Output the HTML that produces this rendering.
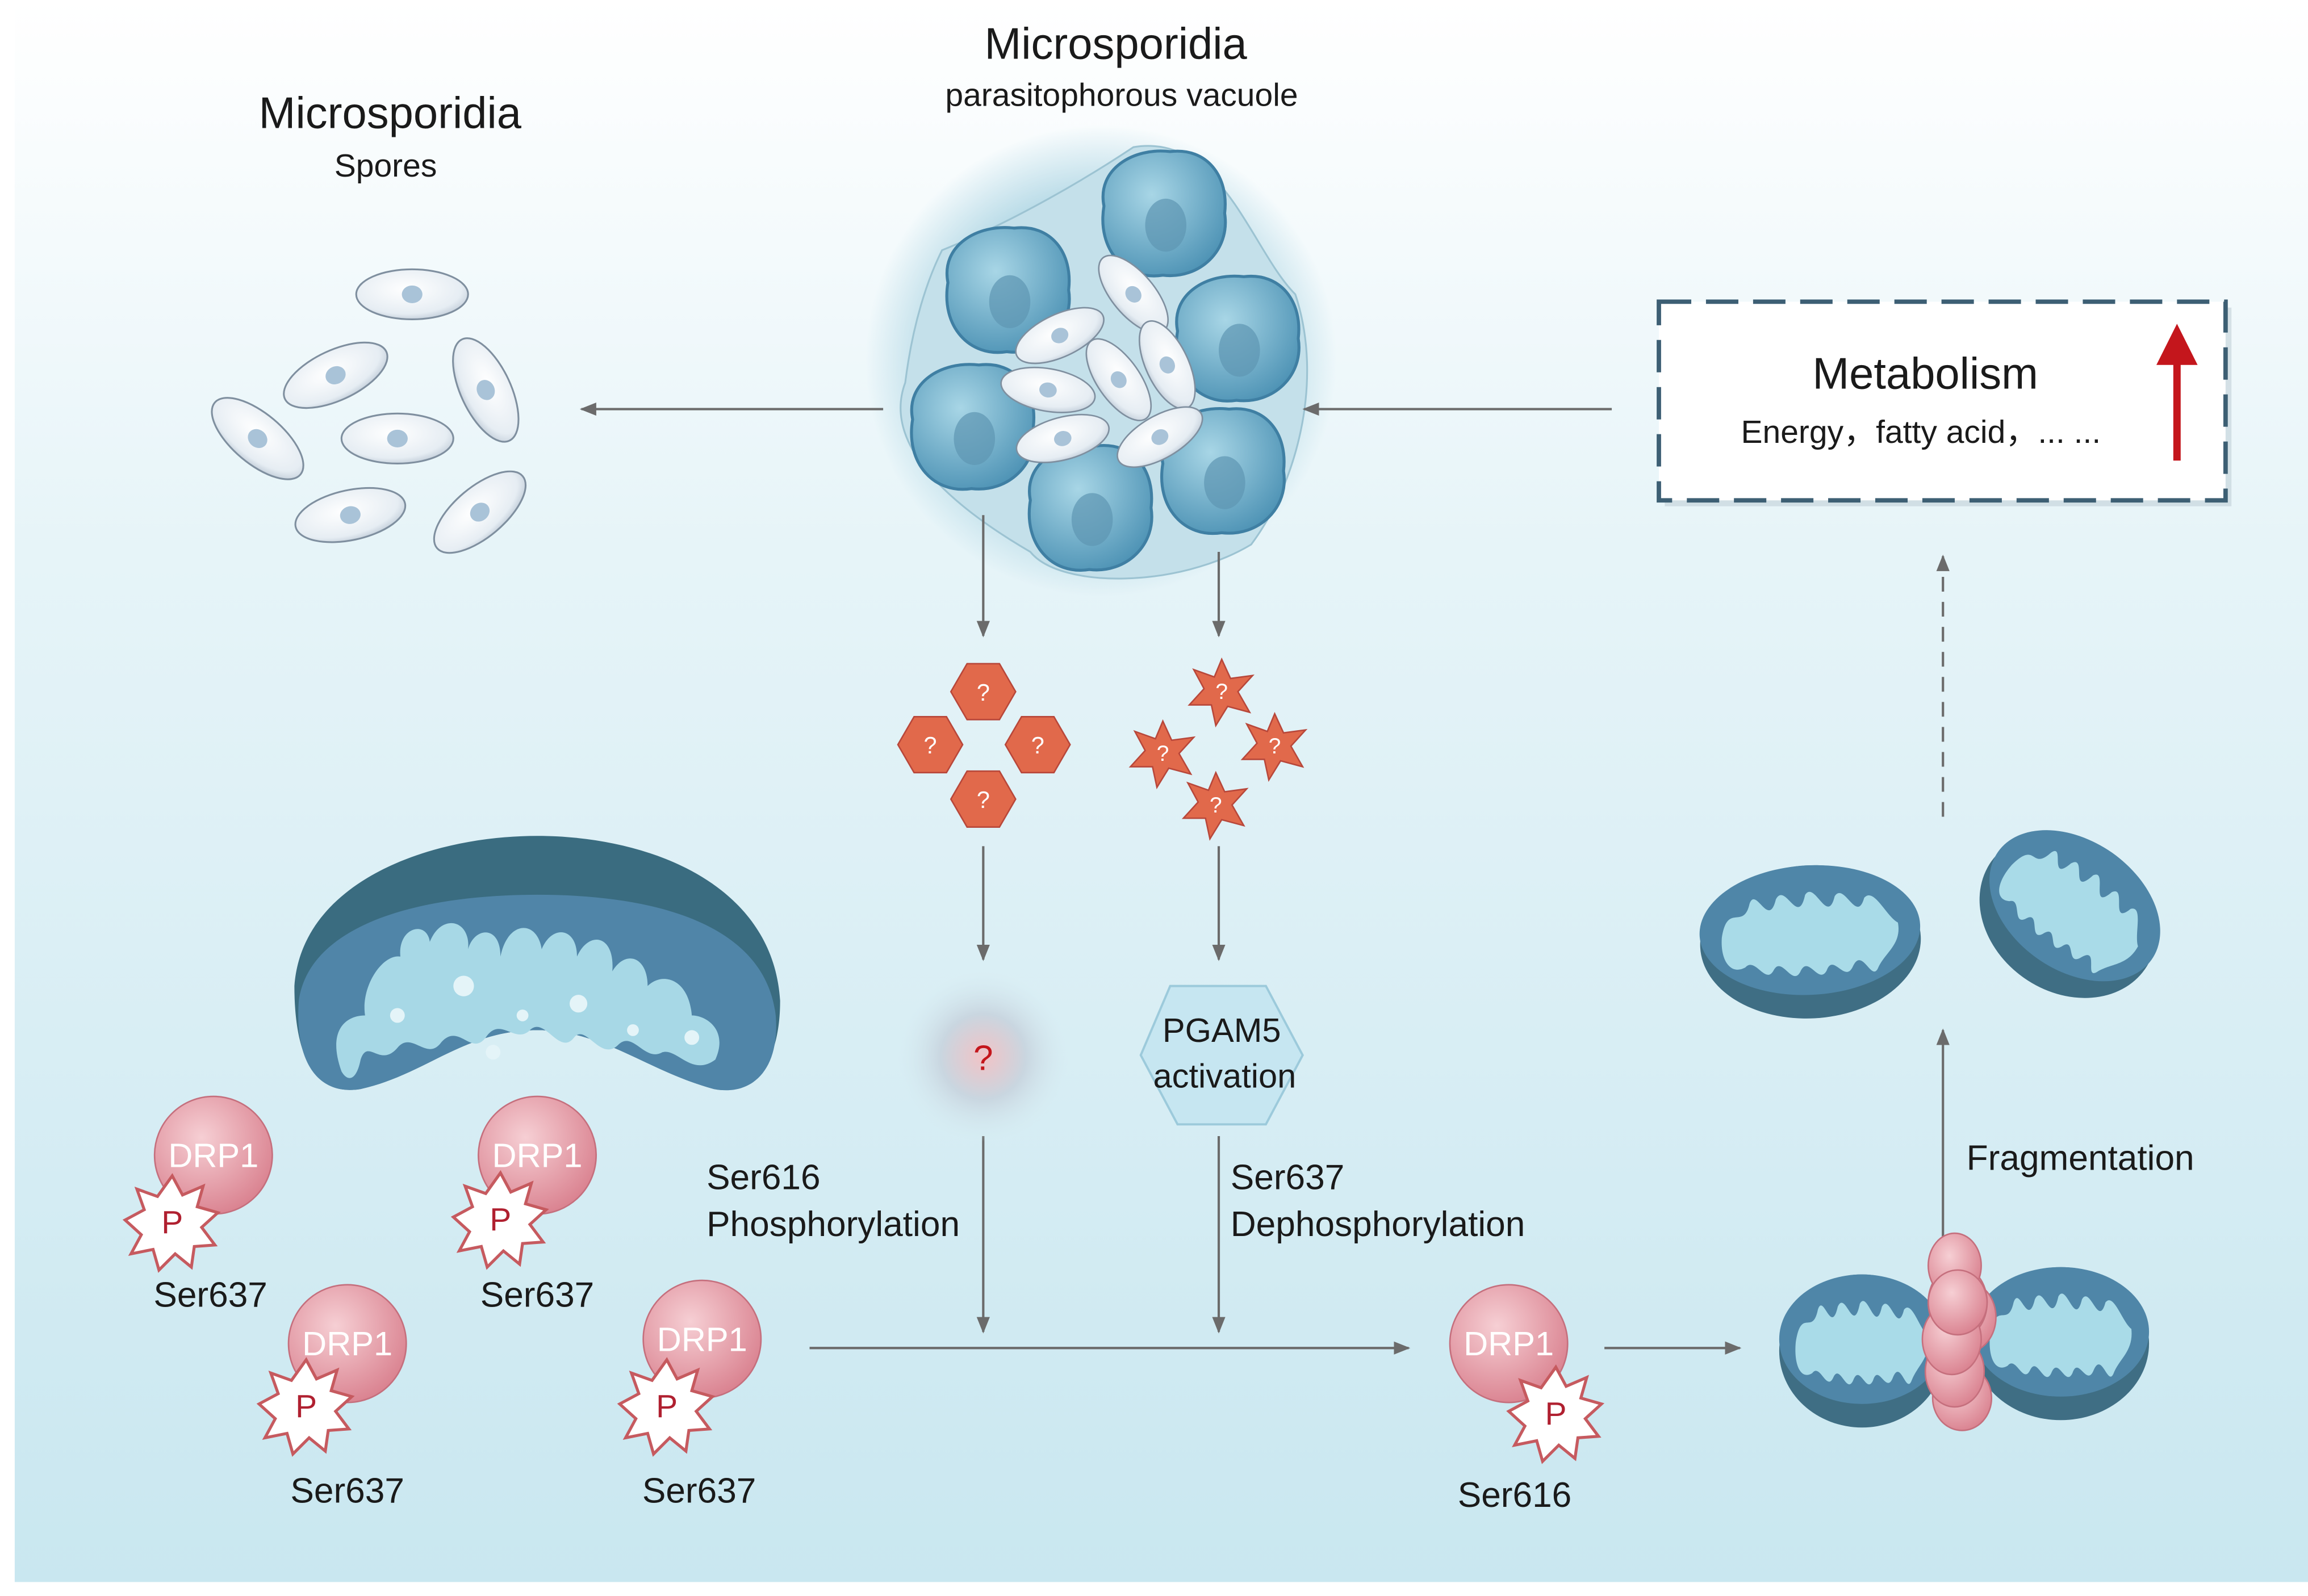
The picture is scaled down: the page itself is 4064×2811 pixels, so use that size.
<!DOCTYPE html>
<html><head><meta charset="utf-8"><style>
html,body{margin:0;padding:0;background:#fff}
svg{display:block}
text{font-family:"Liberation Sans",sans-serif;fill:#1a1a1a}
</style></head><body>
<svg width="4064" height="2811" viewBox="0 0 1568 1084.5" preserveAspectRatio="none" xmlns="http://www.w3.org/2000/svg">
<defs>
<linearGradient id="bg" x1="0" y1="0" x2="0" y2="1">
<stop offset="0" stop-color="#ffffff"/><stop offset="0.35" stop-color="#e6f4f8"/><stop offset="1" stop-color="#c9e7f0"/></linearGradient>
<radialGradient id="glow" cx="0.5" cy="0.5" r="0.5">
<stop offset="0.7" stop-color="#a9d3e2"/><stop offset="1" stop-color="#a9d3e2" stop-opacity="0"/></radialGradient>
<radialGradient id="cell" cx="0.4" cy="0.35" r="0.7">
<stop offset="0" stop-color="#a8d6e6"/><stop offset="1" stop-color="#4e93b5"/></radialGradient>
<radialGradient id="spore" cx="0.45" cy="0.4" r="0.7">
<stop offset="0" stop-color="#ffffff"/><stop offset="0.7" stop-color="#e6edf3"/><stop offset="1" stop-color="#aebccb"/></radialGradient>
<radialGradient id="pink" cx="0.4" cy="0.35" r="0.7">
<stop offset="0" stop-color="#f6cfd4"/><stop offset="1" stop-color="#d9808e"/></radialGradient>
<radialGradient id="qglow" cx="0.5" cy="0.5" r="0.5">
<stop offset="0" stop-color="#f1c3c6"/><stop offset="0.5" stop-color="#c9d6e0"/><stop offset="1" stop-color="#d5e9f0" stop-opacity="0"/></radialGradient>
<marker id="ah" viewBox="0 0 10 10" refX="9" refY="5" markerWidth="7" markerHeight="7" orient="auto"><path d="M0,1 L10,5 L0,9 Z" fill="#6b6b6b"/></marker>
<g id="sp"><ellipse rx="38" ry="17" fill="url(#spore)" stroke="#7f8f9f" stroke-width="1.2"/><ellipse cx="0" cy="0" rx="7" ry="6" fill="#a9c3d8"/></g>
<g id="bc"><path d="M-40,-5 C-45,-30 -20,-45 5,-42 C30,-45 45,-25 42,0 C46,25 25,45 0,42 C-25,46 -45,25 -40,-5Z" fill="url(#cell)" stroke="#3f7fa3" stroke-width="2"/><ellipse cx="2" cy="8" rx="14" ry="18" fill="#5e95b2" opacity="0.7"/></g>
<g id="drp"><circle r="40" fill="url(#pink)" stroke="#c56f7d" stroke-width="1"/><text x="0" y="8" text-anchor="middle" font-size="23" style="fill:#fff">DRP1</text></g>
<g id="pst"><polygon points="0,-31 7,-18 21,-24 17,-10 31,-6 20,4 29,16 15,17 13,31 2,22 -9,33 -13,19 -28,22 -21,9 -32,-1 -19,-8 -24,-22 -10,-17" fill="#fff" stroke="#c65a5f" stroke-width="2"/><text x="0" y="8" text-anchor="middle" font-size="22" style="fill:#b02030">P</text></g>
<g id="hex"><polygon points="-11,-19 11,-19 22,0 11,19 -11,19 -22,0" fill="#e1694b" stroke="#b8473a" stroke-width="1"/><text y="6" text-anchor="middle" font-size="16" style="fill:#fff">?</text></g>
<g id="star"><polygon points="0,-22 6,-9 21,-11 11,0 19,14 4,10 -4,23 -7,9 -22,9 -12,-2 -19,-15 -5,-10" fill="#e1694b" stroke="#b8473a" stroke-width="1"/><text y="5" text-anchor="middle" font-size="15" style="fill:#fff">?</text></g>
<g id="mito"><ellipse rx="75" ry="52" fill="#3f6e84"/><ellipse cy="-8" rx="75" ry="44" fill="#4f86a8"/><path d="M-60,-6 C-55,-30 -45,-10 -40,-28 C-35,-40 -28,-10 -22,-30 C-15,-42 -8,-10 -2,-32 C5,-42 12,-10 18,-30 C25,-40 32,-10 38,-28 C45,-35 52,-15 60,-10 C62,5 50,10 45,20 C40,30 35,5 28,18 C22,30 15,8 10,20 C4,30 -2,8 -8,20 C-14,30 -20,8 -26,18 C-32,28 -38,8 -45,15 C-55,20 -62,10 -60,-6Z" fill="#a9dbe8"/></g>
</defs>
<rect width="1568" height="1084.5" fill="#fff"/>
<rect x="10" y="0" width="1558" height="1075" fill="url(#bg)"/>

<!-- titles -->
<text x="265" y="87" text-anchor="middle" font-size="30">Microsporidia</text>
<text x="262" y="120" text-anchor="middle" font-size="22">Spores</text>
<text x="758" y="40" text-anchor="middle" font-size="30">Microsporidia</text>
<text x="762" y="72" text-anchor="middle" font-size="22">parasitophorous vacuole</text>

<!-- spores -->
<use href="#sp" transform="translate(280,200) scale(1,1)"/>
<use href="#sp" transform="translate(228,255) rotate(-25)"/>
<use href="#sp" transform="translate(330,265) rotate(65)"/>
<use href="#sp" transform="translate(175,298) rotate(40)"/>
<use href="#sp" transform="translate(270,298)"/>
<use href="#sp" transform="translate(238,350) rotate(-12)"/>
<use href="#sp" transform="translate(326,348) rotate(-40)"/>

<!-- vacuole -->
<ellipse cx="748" cy="245" rx="160" ry="160" fill="url(#glow)" opacity="0.8"/>
<path d="M640,170 C690,150 740,120 770,100 C830,90 850,170 880,200 C900,260 880,330 850,370 C800,400 720,400 700,375 C640,340 600,300 615,260 C620,220 630,190 640,170Z" fill="#c4e0ea" stroke="#9cc3d2" stroke-width="1.2"/>
<use href="#bc" transform="translate(790,145)"/>
<use href="#bc" transform="translate(684,197)"/>
<use href="#bc" transform="translate(840,230)"/>
<use href="#bc" transform="translate(660,290)"/>
<use href="#bc" transform="translate(830,320)"/>
<use href="#bc" transform="translate(740,345)"/>
<use href="#sp" transform="translate(770,200) rotate(50) scale(0.85)"/>
<use href="#sp" transform="translate(720,228) rotate(-25) scale(0.85)"/>
<use href="#sp" transform="translate(760,258) rotate(55) scale(0.85)"/>
<use href="#sp" transform="translate(793,248) rotate(65) scale(0.85)"/>
<use href="#sp" transform="translate(712,265) rotate(10) scale(0.85)"/>
<use href="#sp" transform="translate(722,298) rotate(-15) scale(0.85)"/>
<use href="#sp" transform="translate(788,297) rotate(-30) scale(0.85)"/>

<!-- arrows -->
<g stroke="#6b6b6b" stroke-width="1.6" fill="none">
<line x1="600" y1="278" x2="395" y2="278" marker-end="url(#ah)"/>
<line x1="1095" y1="278" x2="886" y2="278" marker-end="url(#ah)"/>
<line x1="668" y1="350" x2="668" y2="432" marker-end="url(#ah)"/>
<line x1="828" y1="375" x2="828" y2="432" marker-end="url(#ah)"/>
<line x1="668" y1="575" x2="668" y2="652" marker-end="url(#ah)"/>
<line x1="828" y1="575" x2="828" y2="652" marker-end="url(#ah)"/>
<line x1="668" y1="772" x2="668" y2="905" marker-end="url(#ah)"/>
<line x1="828" y1="772" x2="828" y2="905" marker-end="url(#ah)"/>
<line x1="550" y1="916" x2="957" y2="916" marker-end="url(#ah)"/>
<line x1="1090" y1="916" x2="1182" y2="916" marker-end="url(#ah)"/>
<line x1="1320" y1="850" x2="1320" y2="700" marker-end="url(#ah)"/>
<line x1="1320" y1="555" x2="1320" y2="378" stroke-dasharray="10,7" marker-end="url(#ah)"/>
</g>

<!-- metabolism box -->
<rect x="1131" y="209" width="385" height="135" fill="#b9c9d2" opacity="0.5"/>
<rect x="1127" y="205" width="385" height="135" fill="#fff" stroke="#3d5f74" stroke-width="3" stroke-dasharray="22,10"/>
<text x="1308" y="264" text-anchor="middle" font-size="30">Metabolism</text>
<text x="1305" y="301" text-anchor="middle" font-size="22">Energy，fatty acid，... ...</text>
<line x1="1479" y1="313" x2="1479" y2="245" stroke="#c4161c" stroke-width="5"/>
<polygon points="1465,248 1479,220 1493,248" fill="#c4161c"/>

<!-- hexagons & stars -->
<use href="#hex" transform="translate(668,470)"/>
<use href="#hex" transform="translate(632,506)"/>
<use href="#hex" transform="translate(705,506)"/>
<use href="#hex" transform="translate(668,543)"/>
<use href="#star" transform="translate(830,470)"/>
<use href="#star" transform="translate(790,512)"/>
<use href="#star" transform="translate(866,507)"/>
<use href="#star" transform="translate(826,547)"/>

<!-- blur ? -->
<circle cx="668" cy="718" r="58" fill="url(#qglow)"/>
<text x="668" y="727" text-anchor="middle" font-size="24" style="fill:#c4161c">?</text>

<!-- PGAM5 -->
<polygon points="795,670 860,670 885,717 860,764 800,764 775,717" fill="#c6e6f1" stroke="#9ccadb" stroke-width="1.5"/>
<text x="830" y="708" text-anchor="middle" font-size="23">PGAM5</text>
<text x="832" y="739" text-anchor="middle" font-size="23">activation</text>

<text x="480" y="808" font-size="24">Ser616</text>
<text x="480" y="840" font-size="24">Phosphorylation</text>
<text x="836" y="808" font-size="24">Ser637</text>
<text x="836" y="840" font-size="24">Dephosphorylation</text>
<text x="1336" y="795" font-size="24">Fragmentation</text>

<!-- big mitochondrion -->
<path d="M200,670 C205,600 290,568 365,568 C440,568 525,600 530,680 C530,725 510,745 485,740 C440,728 410,700 365,700 C315,700 290,730 245,740 C215,745 200,720 200,670Z" fill="#3a6c80"/>
<path d="M203,680 C210,630 280,608 365,608 C450,608 520,630 527,690 C530,728 510,745 485,740 C440,728 410,700 365,700 C315,700 290,730 245,740 C215,745 200,720 203,680Z" fill="#5085a8"/>
<path d="M232,728 C222,700 235,690 248,690 C245,670 260,648 272,650 C270,630 290,625 292,640 C300,620 320,625 318,645 C322,630 340,628 340,650 C345,625 365,625 368,645 C375,628 392,630 392,650 C400,632 418,635 416,660 C425,645 440,650 440,670 C450,660 468,665 470,690 C480,690 495,700 486,720 C470,732 460,712 450,715 C438,722 430,700 420,710 C408,722 398,695 390,705 C380,718 370,690 360,700 C350,710 340,690 330,705 C320,718 312,695 300,708 C290,722 280,700 270,712 C258,726 250,705 245,720 C242,735 236,735 232,728Z" fill="#a7d8e6"/>
<g fill="#e4f4f8"><circle cx="270" cy="690" r="5"/><circle cx="315" cy="670" r="7"/><circle cx="355" cy="690" r="4"/><circle cx="393" cy="682" r="6"/><circle cx="430" cy="700" r="4"/><circle cx="335" cy="715" r="5"/><circle cx="470" cy="705" r="5"/></g>

<!-- DRP1 -->
<use href="#drp" transform="translate(145,785)"/><use href="#pst" transform="translate(117,830)"/>
<use href="#drp" transform="translate(365,785)"/><use href="#pst" transform="translate(340,828)"/>
<use href="#drp" transform="translate(236,913)"/><use href="#pst" transform="translate(208,955)"/>
<use href="#drp" transform="translate(477,910)"/><use href="#pst" transform="translate(453,955)"/>
<use href="#drp" transform="translate(1025,913)"/><use href="#pst" transform="translate(1057,960)"/>
<text x="143" y="888" text-anchor="middle" font-size="24">Ser637</text>
<text x="365" y="888" text-anchor="middle" font-size="24">Ser637</text>
<text x="236" y="1021" text-anchor="middle" font-size="24">Ser637</text>
<text x="475" y="1021" text-anchor="middle" font-size="24">Ser637</text>
<text x="1029" y="1024" text-anchor="middle" font-size="24">Ser616</text>

<!-- fragmented pair -->
<use href="#mito" transform="translate(1265,918) scale(0.75,1)"/>
<use href="#mito" transform="translate(1400,913) scale(0.8,1)"/>
<g fill="url(#pink)" stroke="#c56f7d" stroke-width="1">
<ellipse cx="1336" cy="895" rx="20" ry="24"/><ellipse cx="1330" cy="885" rx="20" ry="25"/>
<ellipse cx="1328" cy="860" rx="18" ry="22"/><ellipse cx="1333" cy="950" rx="20" ry="22"/>
<ellipse cx="1328" cy="932" rx="20" ry="24"/><ellipse cx="1326" cy="910" rx="20" ry="24"/>
<ellipse cx="1330" cy="885" rx="20" ry="22"/>
</g>

<!-- two separate mitochondria -->
<use href="#mito" transform="translate(1230,640) rotate(-3)"/>
<use href="#mito" transform="translate(1405,622) rotate(35) scale(0.85,1)"/>
</svg>
</body></html>
